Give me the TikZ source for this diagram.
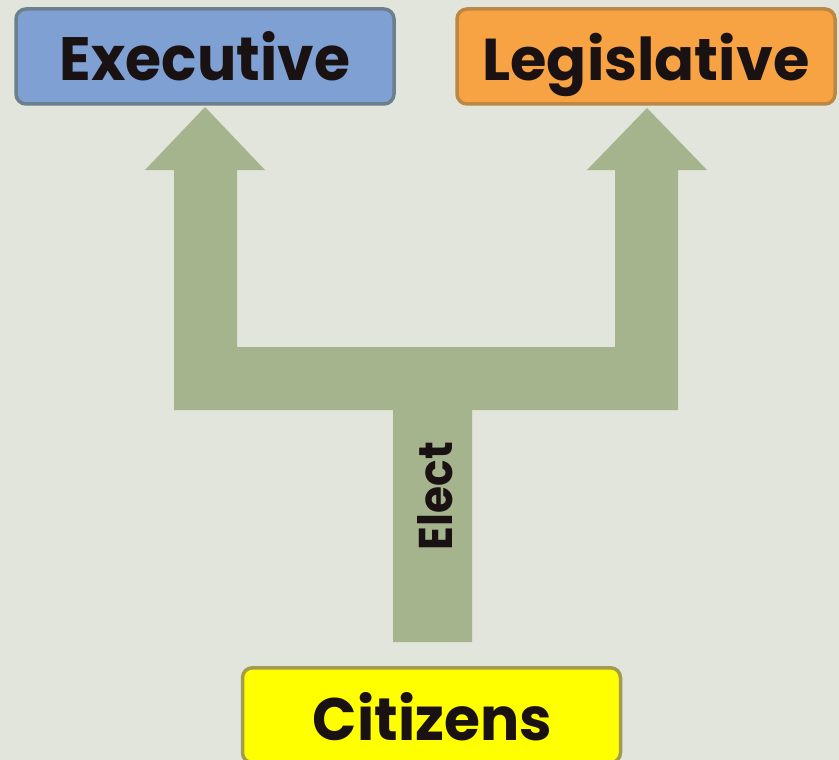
\documentclass[tikz,border=0pt]{standalone}
\usepackage{fontspec}
\setmainfont{Poppins}
\usepackage{graphicx}
\definecolor{bg}{HTML}{E2E5DC}
\definecolor{arrowc}{HTML}{A5B48D}
\definecolor{exfill}{HTML}{7FA0D2}
\definecolor{exdraw}{HTML}{6C7F8C}
\definecolor{lefill}{HTML}{F7A243}
\definecolor{ledraw}{HTML}{BC8645}
\definecolor{cifill}{HTML}{FFFF00}
\definecolor{cidraw}{HTML}{A39B4E}
\definecolor{ink}{HTML}{1A1212}
\begin{document}
\begin{tikzpicture}[x=1pt,y=-1pt,
  govbox/.style={draw, line width=3.5pt, rounded corners=10pt, minimum width=378pt, minimum height=95pt, inner sep=0pt, text=ink, font=\bfseries}]
\useasboundingbox (0,0) rectangle (839,760);
\fill[bg] (0,0) rectangle (839,760);
% branching arrow
\fill[arrowc] (393,642) -- (393,410) -- (174,410) -- (174,170) -- (145,170) -- (205,107)
  -- (265,170) -- (237,170) -- (237,347) -- (615,347) -- (615,170) -- (587,170)
  -- (647,108) -- (707,170) -- (678,170) -- (678,410) -- (472,410) -- (472,642) -- cycle;
\node[govbox, fill=exfill, draw=exdraw] (exec) at (205,56.5) {\resizebox{290pt}{49pt}{Executive}};
\node[govbox, fill=lefill, draw=ledraw] (legis) at (646,56.5) {\raisebox{0pt}[\height][0pt]{\resizebox{327pt}{!}{Legislative}}};
\node[govbox, fill=cifill, draw=cidraw, anchor=north] (cit) at (431.5,666) {};
\node[text=ink, font=\bfseries, anchor=base] (citlabel) at (432.5,740) {\resizebox{239pt}{48pt}{Citizens}};
\node[text=ink, font=\bfseries, rotate=90, anchor=base, inner sep=0pt] (electlabel) at (452,496) {\resizebox{108pt}{35pt}{Elect}};
\end{tikzpicture}
\end{document}
